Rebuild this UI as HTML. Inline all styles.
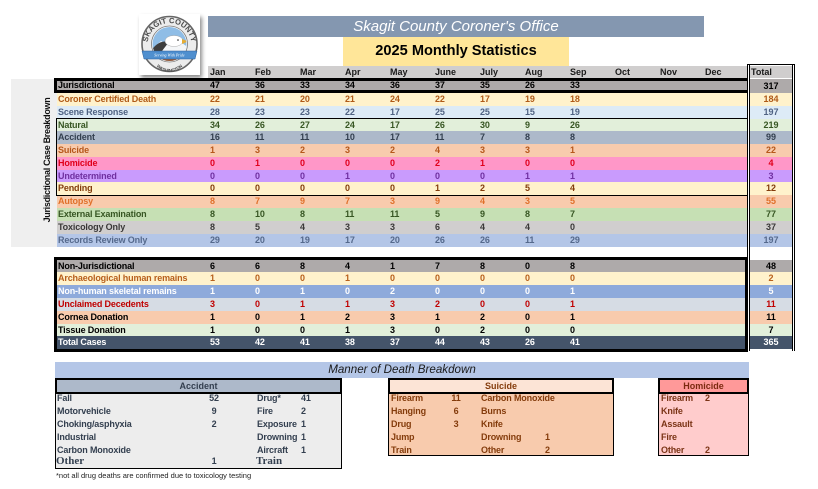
<!DOCTYPE html>
<html><head><meta charset="utf-8">
<style>
*{margin:0;padding:0;box-sizing:border-box}
body{width:818px;height:489px;background:#fff;position:relative;overflow:hidden;font-family:"Liberation Sans",Arial,sans-serif;color:#000}
.a{position:absolute}
.r{position:absolute;left:57px;width:690px;height:13px;line-height:13px;font-weight:bold;font-size:9px;letter-spacing:-0.15px;white-space:nowrap}
.r b{position:absolute;top:0}
.r .l{left:1px}
.m1{left:153px}.m2{left:198px}.m3{left:243px}.m4{left:288px}.m5{left:333px}.m6{left:378px}.m7{left:423px}.m8{left:468px}.m9{left:513px}
.t{position:absolute;left:750px;width:42px;height:13px;line-height:13px;text-align:center;font-weight:bold;font-size:9px}
.hd{position:absolute;top:66px;height:12px;line-height:13px;font-weight:bold;font-size:9px;color:#1a1a1a}
.bx{position:absolute;font-size:9px;font-weight:bold;letter-spacing:-0.15px;white-space:nowrap;line-height:13px;height:13px}
</style></head><body>

<!-- logo -->
<div class="a" style="left:139px;top:14px;width:61px;height:61px;box-shadow:2px 3px 4px rgba(0,0,0,0.45);background:#fff">
<svg width="61" height="61" viewBox="0 0 61 61" xmlns="http://www.w3.org/2000/svg">
<defs>
<path id="arc" d="M8.5,31 A22,22 0 0 1 52.5,31"/>
<path id="arc2" d="M14,47 A18,18 0 0 0 47,47"/>
<clipPath id="cl"><circle cx="30.5" cy="30" r="17"/></clipPath>
</defs>
<circle cx="30.5" cy="30" r="27.5" fill="#ececec" stroke="#666" stroke-width="1.6"/>
<circle cx="30.5" cy="30" r="18" fill="#fff" stroke="#777" stroke-width="0.8"/>
<text font-family="Liberation Sans" font-size="7.6" font-weight="bold" fill="#4a4a4a"><textPath href="#arc" startOffset="50%" text-anchor="middle">SKAGIT COUNTY</textPath></text>
<g clip-path="url(#cl)">
<rect x="10" y="10" width="42" height="40" fill="#8fbde6"/>
<path d="M12,36 L22,27 L28,31 L36,24 L50,34 L50,40 L12,40Z" fill="#f4f6f8"/>
<path d="M10,40 C16,30 22,26 30,28 C26,33 22,38 20,42 Z" fill="#3d3d3d"/>
<ellipse cx="35" cy="27" rx="9" ry="5.5" fill="#fff" stroke="#999" stroke-width="0.4"/>
<path d="M43,25 L49,27.5 L43,30 Z" fill="#e5ad35"/>
<circle cx="39" cy="26" r="0.8" fill="#222"/>
<rect x="10" y="44" width="42" height="8" fill="#9a5a36"/>
</g>
<path d="M3,37 L58,37 L56,45 L5,45 Z" fill="#4f8fcf" stroke="#2c5f99" stroke-width="0.5"/>
<text x="30.5" y="42.6" font-family="Liberation Serif" font-style="italic" font-size="4" fill="#fff" text-anchor="middle">Serving With Pride</text>
<text font-family="Liberation Sans" font-size="4.2" font-weight="bold" fill="#444"><textPath href="#arc2" startOffset="50%" text-anchor="middle">WASHINGTON</textPath></text>
</svg>
</div>

<!-- title bar -->
<div class="a" style="left:208px;top:16px;width:496px;height:21px;background:#8497b0;color:#fff;text-align:center;font-style:italic;font-size:15px;line-height:21px">Skagit County Coroner's Office</div>
<div class="a" style="left:343px;top:37px;width:226px;height:29px;background:#ffe699;text-align:center;font-weight:bold;font-size:14.6px;line-height:29px;color:#000">2025 Monthly Statistics</div>

<!-- header row -->
<div class="a" style="left:208px;top:66px;width:539px;height:12px;background:#d0cece"></div>
<div class="hd" style="left:210px">Jan</div>
<div class="hd" style="left:255px">Feb</div>
<div class="hd" style="left:300px">Mar</div>
<div class="hd" style="left:345px">Apr</div>
<div class="hd" style="left:390px">May</div>
<div class="hd" style="left:435px">June</div>
<div class="hd" style="left:480px">July</div>
<div class="hd" style="left:525px">Aug</div>
<div class="hd" style="left:570px">Sep</div>
<div class="hd" style="left:615px">Oct</div>
<div class="hd" style="left:660px">Nov</div>
<div class="hd" style="left:705px">Dec</div>
<div class="a" style="left:750px;top:66px;width:42px;height:12px;background:#d0cece"></div>
<div class="hd" style="left:751px">Total</div>

<!-- left panel -->
<div class="a" style="left:11px;top:79px;width:46px;height:168px;background:#efefef"></div>
<div class="a" style="left:47px;top:160px;width:0;height:0">
<div style="position:absolute;left:-70px;top:-7px;width:140px;height:14px;line-height:14px;text-align:center;transform:rotate(-90deg);font-weight:bold;font-size:9px;letter-spacing:-0.3px;white-space:nowrap;color:#111">Jurisdictional Case Breakdown</div>
</div>

<!-- Jurisdictional -->
<div class="a" style="left:54px;top:78px;width:693px;height:15px;background:#000"></div>
<div class="a" style="left:57px;top:81px;width:690px;height:9px;background:#aeaaaa"></div>
<div class="r" style="top:79px;color:#000"><b class="l">Jurisdictional</b><b class="m1">47</b><b class="m2">36</b><b class="m3">33</b><b class="m4">34</b><b class="m5">36</b><b class="m6">37</b><b class="m7">35</b><b class="m8">26</b><b class="m9">33</b></div>

<!-- upper rows -->
<div class="r" style="top:93px;background:#fff2cc;color:#b05a17"><b class="l">Coroner Certified Death</b><b class="m1">22</b><b class="m2">21</b><b class="m3">20</b><b class="m4">21</b><b class="m5">24</b><b class="m6">22</b><b class="m7">17</b><b class="m8">19</b><b class="m9">18</b></div>
<div class="r" style="top:106px;background:#ddebf7;color:#4f6282"><b class="l">Scene Response</b><b class="m1">28</b><b class="m2">23</b><b class="m3">23</b><b class="m4">22</b><b class="m5">17</b><b class="m6">25</b><b class="m7">25</b><b class="m8">15</b><b class="m9">19</b></div>
<div class="r" style="top:119px;height:12px;background:#e2efda;color:#375623"><b class="l">Natural</b><b class="m1">34</b><b class="m2">26</b><b class="m3">27</b><b class="m4">24</b><b class="m5">17</b><b class="m6">26</b><b class="m7">30</b><b class="m8">9</b><b class="m9">26</b></div>
<div class="r" style="top:131px;background:#adb9ca;color:#333f4f"><b class="l">Accident</b><b class="m1">16</b><b class="m2">11</b><b class="m3">11</b><b class="m4">10</b><b class="m5">17</b><b class="m6">11</b><b class="m7">7</b><b class="m8">8</b><b class="m9">8</b></div>
<div class="r" style="top:144px;background:#f8cbad;color:#b6571a"><b class="l">Suicide</b><b class="m1">1</b><b class="m2">3</b><b class="m3">2</b><b class="m4">3</b><b class="m5">2</b><b class="m6">4</b><b class="m7">3</b><b class="m8">3</b><b class="m9">1</b></div>
<div class="r" style="top:157px;background:#ff97c8;color:#e0001a"><b class="l">Homicide</b><b class="m1">0</b><b class="m2">1</b><b class="m3">0</b><b class="m4">0</b><b class="m5">0</b><b class="m6">2</b><b class="m7">1</b><b class="m8">0</b><b class="m9">0</b></div>
<div class="r" style="top:170px;height:12px;background:#c99bfd;color:#7030a0"><b class="l">Undetermined</b><b class="m1">0</b><b class="m2">0</b><b class="m3">0</b><b class="m4">1</b><b class="m5">0</b><b class="m6">0</b><b class="m7">0</b><b class="m8">1</b><b class="m9">1</b></div>
<div class="r" style="top:182px;background:#fff2cc;color:#833c0b"><b class="l">Pending</b><b class="m1">0</b><b class="m2">0</b><b class="m3">0</b><b class="m4">0</b><b class="m5">0</b><b class="m6">1</b><b class="m7">2</b><b class="m8">5</b><b class="m9">4</b></div>
<div class="r" style="top:195px;background:#f8cbad;color:#e0702a"><b class="l">Autopsy</b><b class="m1">8</b><b class="m2">7</b><b class="m3">9</b><b class="m4">7</b><b class="m5">3</b><b class="m6">9</b><b class="m7">4</b><b class="m8">3</b><b class="m9">5</b></div>
<div class="r" style="top:208px;background:#c6e0b4;color:#375623"><b class="l">External Examination</b><b class="m1">8</b><b class="m2">10</b><b class="m3">8</b><b class="m4">11</b><b class="m5">11</b><b class="m6">5</b><b class="m7">9</b><b class="m8">8</b><b class="m9">7</b></div>
<div class="r" style="top:221px;background:#d0cece;color:#3a3838"><b class="l">Toxicology Only</b><b class="m1">8</b><b class="m2">5</b><b class="m3">4</b><b class="m4">3</b><b class="m5">3</b><b class="m6">6</b><b class="m7">4</b><b class="m8">4</b><b class="m9">0</b></div>
<div class="r" style="top:234px;background:#b4c6e7;color:#55698c"><b class="l">Records Review Only</b><b class="m1">29</b><b class="m2">20</b><b class="m3">19</b><b class="m4">17</b><b class="m5">20</b><b class="m6">26</b><b class="m7">26</b><b class="m8">11</b><b class="m9">29</b></div>

<!-- natural-pending box -->
<div class="a" style="left:56px;top:118px;width:691px;height:78px;border-top:1px solid #000;border-bottom:1px solid #000;border-left:1px solid #000"></div>

<!-- upper totals -->
<div class="t" style="top:79px;height:14px;line-height:14px;background:#aeaaaa;color:#000">317</div>
<div class="t" style="top:93px;background:#fff2cc;color:#b05a17">184</div>
<div class="t" style="top:106px;background:#ddebf7;color:#4f6282">197</div>
<div class="t" style="top:119px;height:12px;background:#e2efda;color:#375623">219</div>
<div class="t" style="top:131px;background:#adb9ca;color:#333f4f">99</div>
<div class="t" style="top:144px;background:#f8cbad;color:#b6571a">22</div>
<div class="t" style="top:157px;background:#ff97c8;color:#e0001a">4</div>
<div class="t" style="top:170px;height:12px;background:#c99bfd;color:#7030a0">3</div>
<div class="t" style="top:182px;background:#fff2cc;color:#833c0b">12</div>
<div class="t" style="top:195px;background:#f8cbad;color:#e0702a">55</div>
<div class="t" style="top:208px;background:#c6e0b4;color:#375623">77</div>
<div class="t" style="top:221px;background:#d0cece;color:#3a3838">37</div>
<div class="t" style="top:234px;background:#b4c6e7;color:#55698c">197</div>

<!-- lower table -->
<div class="a" style="left:54px;top:257px;width:694px;height:95px;border:3px solid #000"></div>
<div class="r" style="top:260px;height:12px;width:688px;background:#aeaaaa;color:#000"><b class="l">Non-Jurisdictional</b><b class="m1">6</b><b class="m2">6</b><b class="m3">8</b><b class="m4">4</b><b class="m5">1</b><b class="m6">7</b><b class="m7">8</b><b class="m8">0</b><b class="m9">8</b></div>
<div class="r" style="top:272px;width:688px;background:#fff2cc;color:#b8601c"><b class="l">Archaeological human remains</b><b class="m1">1</b><b class="m2">0</b><b class="m3">0</b><b class="m4">1</b><b class="m5">0</b><b class="m6">0</b><b class="m7">0</b><b class="m8">0</b><b class="m9">0</b></div>
<div class="r" style="top:285px;width:688px;background:#8eaadb;color:#fff"><b class="l">Non-human skeletal remains</b><b class="m1">1</b><b class="m2">0</b><b class="m3">1</b><b class="m4">0</b><b class="m5">2</b><b class="m6">0</b><b class="m7">0</b><b class="m8">0</b><b class="m9">1</b></div>
<div class="r" style="top:298px;width:688px;background:#d6dce4;color:#c00000"><b class="l">Unclaimed Decedents</b><b class="m1">3</b><b class="m2">0</b><b class="m3">1</b><b class="m4">1</b><b class="m5">3</b><b class="m6">2</b><b class="m7">0</b><b class="m8">0</b><b class="m9">1</b></div>
<div class="r" style="top:311px;width:688px;background:#f8cbad;color:#000"><b class="l">Cornea Donation</b><b class="m1">1</b><b class="m2">0</b><b class="m3">1</b><b class="m4">2</b><b class="m5">3</b><b class="m6">1</b><b class="m7">2</b><b class="m8">0</b><b class="m9">1</b></div>
<div class="r" style="top:324px;height:12px;width:688px;background:#e2efda;color:#000"><b class="l">Tissue Donation</b><b class="m1">1</b><b class="m2">0</b><b class="m3">0</b><b class="m4">1</b><b class="m5">3</b><b class="m6">0</b><b class="m7">2</b><b class="m8">0</b><b class="m9">0</b></div>
<div class="r" style="top:336px;width:688px;background:#44546a;color:#fff"><b class="l">Total Cases</b><b class="m1">53</b><b class="m2">42</b><b class="m3">41</b><b class="m4">38</b><b class="m5">37</b><b class="m6">44</b><b class="m7">43</b><b class="m8">26</b><b class="m9">41</b></div>

<div class="t" style="top:260px;height:12px;line-height:12px;background:#aeaaaa;color:#000">48</div>
<div class="t" style="top:272px;background:#fff2cc;color:#b8601c">2</div>
<div class="t" style="top:285px;background:#8eaadb;color:#fff">5</div>
<div class="t" style="top:298px;background:#d6dce4;color:#c00000">11</div>
<div class="t" style="top:311px;background:#f8cbad;color:#000">11</div>
<div class="t" style="top:324px;height:12px;line-height:12px;background:#e2efda;color:#000">7</div>
<div class="t" style="top:336px;background:#44546a;color:#fff">365</div>

<!-- total column double lines -->
<div class="a" style="left:747px;top:64px;width:48px;height:287px;border-left:3px double #000;border-right:3px double #000"></div>
<div class="a" style="left:747px;top:64px;width:48px;height:1px;background:#000"></div>

<!-- Manner of Death -->
<div class="a" style="left:55px;top:362px;width:694px;height:16px;background:#b4c6e7;text-align:center;font-style:italic;font-size:11.6px;line-height:16px;color:#1a1a1a">Manner of Death Breakdown</div>

<!-- Accident box -->
<div class="a" style="left:55px;top:378px;width:287px;height:16px;background:#adb9ca;border:2px solid #000;text-align:center;font-weight:bold;font-size:9px;line-height:12px;color:#333f4f">Accident</div>
<div class="a" style="left:55px;top:394px;width:287px;height:75px;background:#ededed;border:1px solid #000;border-top:none"></div>
<div style="color:#333f4f">
<div class="bx" style="left:57px;top:392px">Fall</div>
<div class="bx" style="left:57px;top:405px">Motorvehicle</div>
<div class="bx" style="left:57px;top:418px">Choking/asphyxia</div>
<div class="bx" style="left:57px;top:431px">Industrial</div>
<div class="bx" style="left:57px;top:444px">Carbon Monoxide</div>
<div class="bx" style="left:56px;top:455px;font-family:'Liberation Serif',serif;font-size:11px;letter-spacing:0">Other</div>
<div class="bx" style="left:204px;top:392px;width:20px;text-align:center">52</div>
<div class="bx" style="left:204px;top:405px;width:20px;text-align:center">9</div>
<div class="bx" style="left:204px;top:418px;width:20px;text-align:center">2</div>
<div class="bx" style="left:204px;top:455px;width:20px;text-align:center">1</div>
<div class="bx" style="left:257px;top:392px">Drug*</div>
<div class="bx" style="left:257px;top:405px">Fire</div>
<div class="bx" style="left:257px;top:418px">Exposure</div>
<div class="bx" style="left:257px;top:431px">Drowning</div>
<div class="bx" style="left:257px;top:444px">Aircraft</div>
<div class="bx" style="left:256px;top:455px;font-family:'Liberation Serif',serif;font-size:11px;letter-spacing:0">Train</div>
<div class="bx" style="left:301px;top:392px">41</div>
<div class="bx" style="left:301px;top:405px">2</div>
<div class="bx" style="left:301px;top:418px">1</div>
<div class="bx" style="left:301px;top:431px">1</div>
<div class="bx" style="left:301px;top:444px">1</div>
</div>
<div class="a" style="left:56px;top:471px;font-size:7.5px;line-height:10px;color:#222;white-space:nowrap">*not all drug deaths are confirmed due to toxicology testing</div>

<!-- Suicide box -->
<div class="a" style="left:388px;top:378px;width:226px;height:16px;background:#fce4d6;border:2px solid #000;text-align:center;font-weight:bold;font-size:9px;line-height:12px;color:#843c0c">Suicide</div>
<div class="a" style="left:388px;top:394px;width:226px;height:62px;background:#f8cbad;border:1px solid #000;border-top:none"></div>
<div style="color:#843c0c">
<div class="bx" style="left:391px;top:392px">Firearm</div>
<div class="bx" style="left:391px;top:405px">Hanging</div>
<div class="bx" style="left:391px;top:418px">Drug</div>
<div class="bx" style="left:391px;top:431px">Jump</div>
<div class="bx" style="left:391px;top:444px">Train</div>
<div class="bx" style="left:446px;top:392px;width:20px;text-align:center">11</div>
<div class="bx" style="left:446px;top:405px;width:20px;text-align:center">6</div>
<div class="bx" style="left:446px;top:418px;width:20px;text-align:center">3</div>
<div class="bx" style="left:481px;top:392px">Carbon Monoxide</div>
<div class="bx" style="left:481px;top:405px">Burns</div>
<div class="bx" style="left:481px;top:418px">Knife</div>
<div class="bx" style="left:481px;top:431px">Drowning</div>
<div class="bx" style="left:481px;top:444px">Other</div>
<div class="bx" style="left:545px;top:431px">1</div>
<div class="bx" style="left:545px;top:444px">2</div>
</div>

<!-- Homicide box -->
<div class="a" style="left:658px;top:378px;width:91px;height:16px;background:#ff9999;border:2px solid #000;text-align:center;font-weight:bold;font-size:9px;line-height:12px;color:#7b2a10">Homicide</div>
<div class="a" style="left:658px;top:394px;width:91px;height:62px;background:#ffcccc;border:1px solid #000;border-top:none"></div>
<div style="color:#7b3416">
<div class="bx" style="left:661px;top:392px">Firearm</div>
<div class="bx" style="left:661px;top:405px">Knife</div>
<div class="bx" style="left:661px;top:418px">Assault</div>
<div class="bx" style="left:661px;top:431px">Fire</div>
<div class="bx" style="left:661px;top:444px">Other</div>
<div class="bx" style="left:705px;top:392px">2</div>
<div class="bx" style="left:705px;top:444px">2</div>
</div>

</body></html>
